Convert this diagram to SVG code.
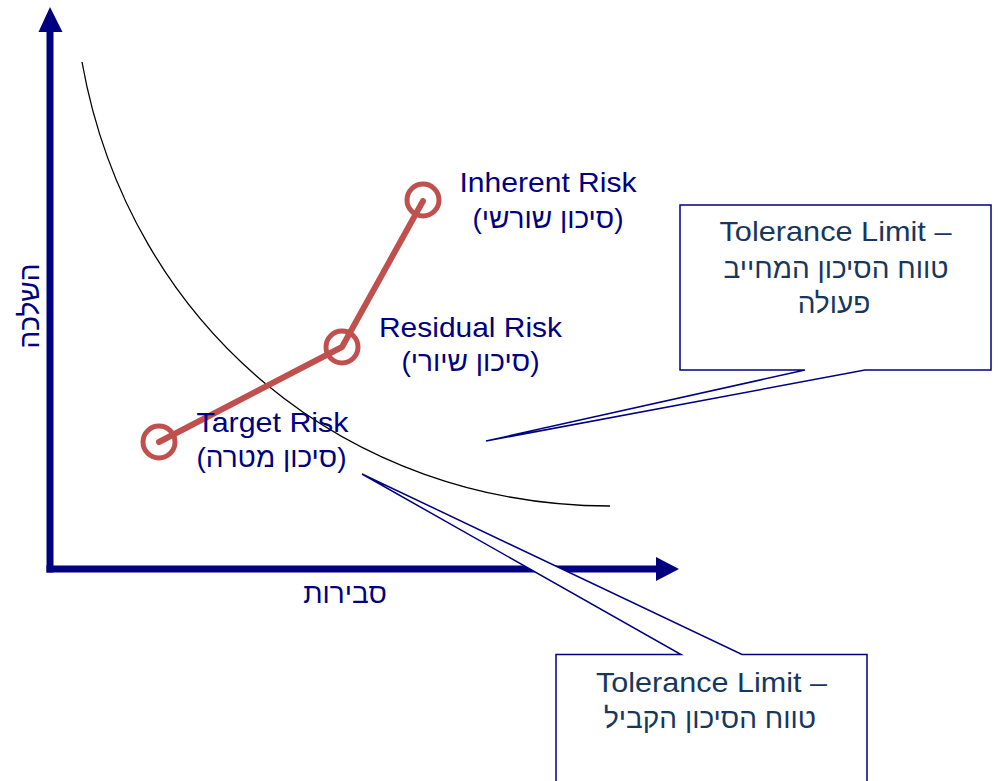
<svg xmlns="http://www.w3.org/2000/svg" width="998" height="781" viewBox="0 0 998 781">
<style>
.lbl{font-family:"Liberation Sans",Arial,"DejaVu Sans",sans-serif;font-size:28px;fill:#000080}
.co{font-family:"Liberation Sans",Arial,"DejaVu Sans",sans-serif;font-size:28px;fill:#17375E;text-anchor:middle}
.axis{stroke:#000080;stroke-width:7;fill:none}
.head{fill:#000080}
.callout{fill:#FFFFFF;stroke:#000080;stroke-width:1.5;stroke-linejoin:miter}
.pt{fill:none;stroke:#C0504D;stroke-width:5}
.risk{fill:none;stroke:#C0504D;stroke-width:6;stroke-linecap:round;stroke-linejoin:round}
</style>
<rect width="998" height="781" fill="#FFFFFF"/>
<g id="axes">
<line class="axis" x1="50" y1="572.5" x2="50" y2="30"/>
<polygon class="head" points="50,7 38.5,32 62.5,32"/>
<line class="axis" x1="46.5" y1="569" x2="658" y2="569"/>
<polygon class="head" points="679,569 656,557 656,581"/>
<text class="lbl" transform="translate(39,306) rotate(-90)" text-anchor="middle">השלכה</text>
<text class="lbl" x="345" y="603" text-anchor="middle">סבירות</text>
</g>
<g id="curve">
<path d="M82,62 C130,330 350,506 610,506" fill="none" stroke="#000000" stroke-width="1.3"/>
</g>
<g id="connectors">
<polyline class="risk" points="159,442 342,347 423,201"/>
</g>
<g id="node-inherent">
<circle class="pt" cx="423" cy="200" r="16"/>
<text class="lbl" x="548" y="192" text-anchor="middle" textLength="177" lengthAdjust="spacingAndGlyphs">Inherent Risk</text>
<text class="lbl" x="548" y="228" text-anchor="middle">(סיכון שורשי)</text>
</g>
<g id="node-residual">
<circle class="pt" cx="342" cy="347" r="16"/>
<text class="lbl" x="470.5" y="337" text-anchor="middle" textLength="183" lengthAdjust="spacingAndGlyphs">Residual Risk</text>
<text class="lbl" x="470.5" y="371" text-anchor="middle">(סיכון שיורי)</text>
</g>
<g id="node-target">
<circle class="pt" cx="159" cy="442" r="16"/>
<text class="lbl" x="272.5" y="432" text-anchor="middle" textLength="152" lengthAdjust="spacingAndGlyphs">Target Risk</text>
<text class="lbl" x="271.5" y="467" text-anchor="middle">(סיכון מטרה)</text>
</g>
<g id="callout-action">
<path class="callout" d="M680,205 H991 V370 H865 L486,441 L805,370 H680 Z"/>
<text class="co" x="835.5" y="241" textLength="232" lengthAdjust="spacingAndGlyphs">Tolerance Limit –</text>
<text class="co" x="836" y="278">טווח הסיכון המחייב</text>
<text class="co" x="834" y="313">פעולה</text>
</g>
<g id="callout-acceptable">
<path class="callout" d="M556,654.5 H681 L362,474 L742,654.5 H867 V790 H556 Z"/>
<text class="co" x="711.5" y="692" textLength="231" lengthAdjust="spacingAndGlyphs">Tolerance Limit –</text>
<text class="co" x="710" y="728">טווח הסיכון הקביל</text>
</g>
</svg>
